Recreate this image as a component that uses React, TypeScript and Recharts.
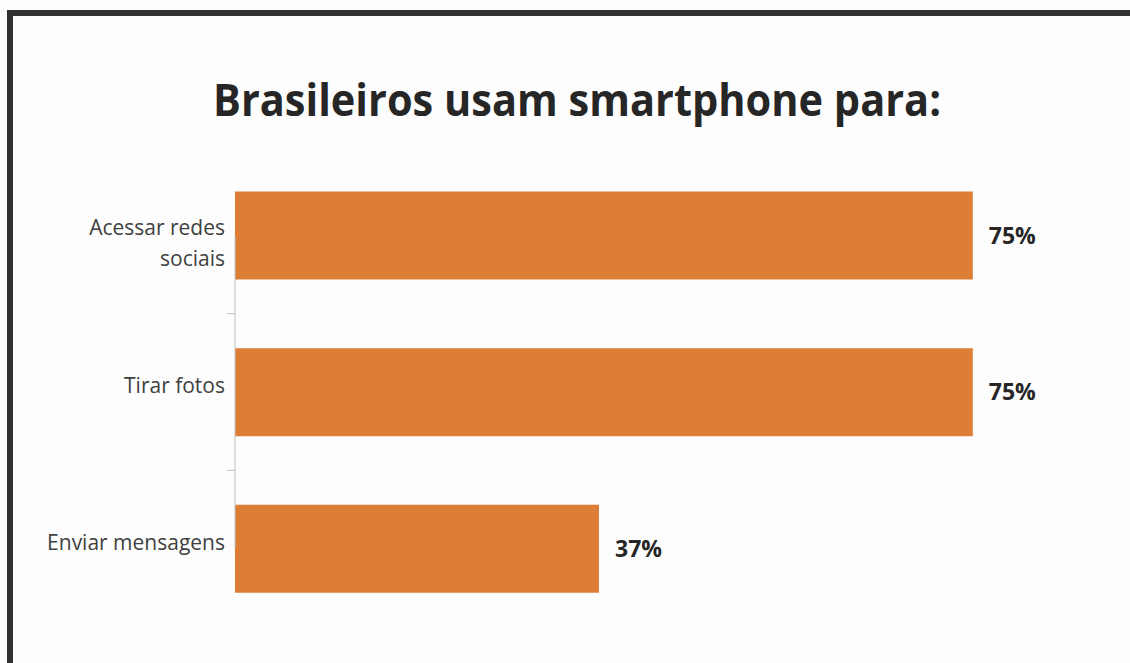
import React from "react";
import { BarChart, Bar, XAxis, YAxis, LabelList, ReferenceLine } from "recharts";

const categories = ["Acessar redes sociais", "Tirar fotos", "Enviar mensagens"];
const values = [75, 75, 37];
const tickLabelLines = [["Acessar redes", "sociais"], ["Tirar fotos"], ["Enviar mensagens"]];
const titleText = "Brasileiros usam smartphone para:";

const data = categories.map((name, i) => ({ name, value: values[i] }));

const FONT = "'Open Sans', 'Noto Sans', sans-serif";
const AXIS_GRAY = "#c4c4c4";

const CategoryTick = (props: any) => {
  const { x, y, payload, index } = props;
  const idx = categories.indexOf(payload.value);
  const lines = tickLabelLines[idx] || [String(payload.value)];
  const half = payload && payload.offset ? payload.offset : 0;
  const axisX = x + 8;
  return (
    <g>
      {index > 0 && half > 0 ? (
        <line x1={axisX - 8} x2={axisX} y1={y - half} y2={y - half} stroke={AXIS_GRAY} strokeWidth={1} />
      ) : null}
      {lines.map((line, i) => (
        <text
          key={i}
          x={x - 2}
          y={lines.length > 1 ? y + i * 31 : y + 1}
          textAnchor="end"
          fill="#404040"
          fontSize={21}
          fontFamily={FONT}
        >
          {line}
        </text>
      ))}
    </g>
  );
};

export default function App() {
  return (
    <div
      style={{
        position: "absolute",
        left: 0,
        top: 0,
        width: 1130,
        height: 663,
        background: "#fdfdfd",
        overflow: "hidden",
      }}
    >
      <div style={{ position: "absolute", left: 7, top: 10, width: 1123, height: 6, background: "#313131" }} />
      <div style={{ position: "absolute", left: 7, top: 10, width: 6, height: 653, background: "#313131" }} />
      <svg width={1130} height={663} style={{ position: "absolute", left: 0, top: 0 }}>
        <text
          x={213}
          y={116}
          fontSize={44}
          fontWeight="bold"
          fontFamily={FONT}
          fill="#262626"
          textLength={728}
          lengthAdjust="spacingAndGlyphs"
        >
          {titleText}
        </text>
      </svg>
      <div style={{ position: "absolute", left: 0, top: 0 }}>
        <BarChart
          width={1130}
          height={663}
          data={data}
          layout="vertical"
          margin={{ top: 157, right: 108, bottom: 36, left: 0 }}
          barCategoryGap="22%"
        >
          <XAxis type="number" hide domain={[0, 80]} />
          <YAxis
            type="category"
            dataKey="name"
            width={235}
            axisLine={false}
            tickLine={false}
            interval={0}
            tick={<CategoryTick />}
          />
          <ReferenceLine
            segment={[
              { x: 0, y: categories[0] },
              { x: 0, y: categories[categories.length - 1] },
            ]}
            stroke={AXIS_GRAY}
            strokeWidth={1}
            ifOverflow="visible"
          />
          <Bar dataKey="value" fill="#DD7E36" isAnimationActive={false}>
            <LabelList
              dataKey="value"
              position="right"
              offset={16}
              formatter={(v: any) => `${v}%`}
              fill="#262626"
              fontSize={23}
              fontWeight="bold"
              fontFamily={FONT}
            />
          </Bar>
        </BarChart>
      </div>
    </div>
  );
}
